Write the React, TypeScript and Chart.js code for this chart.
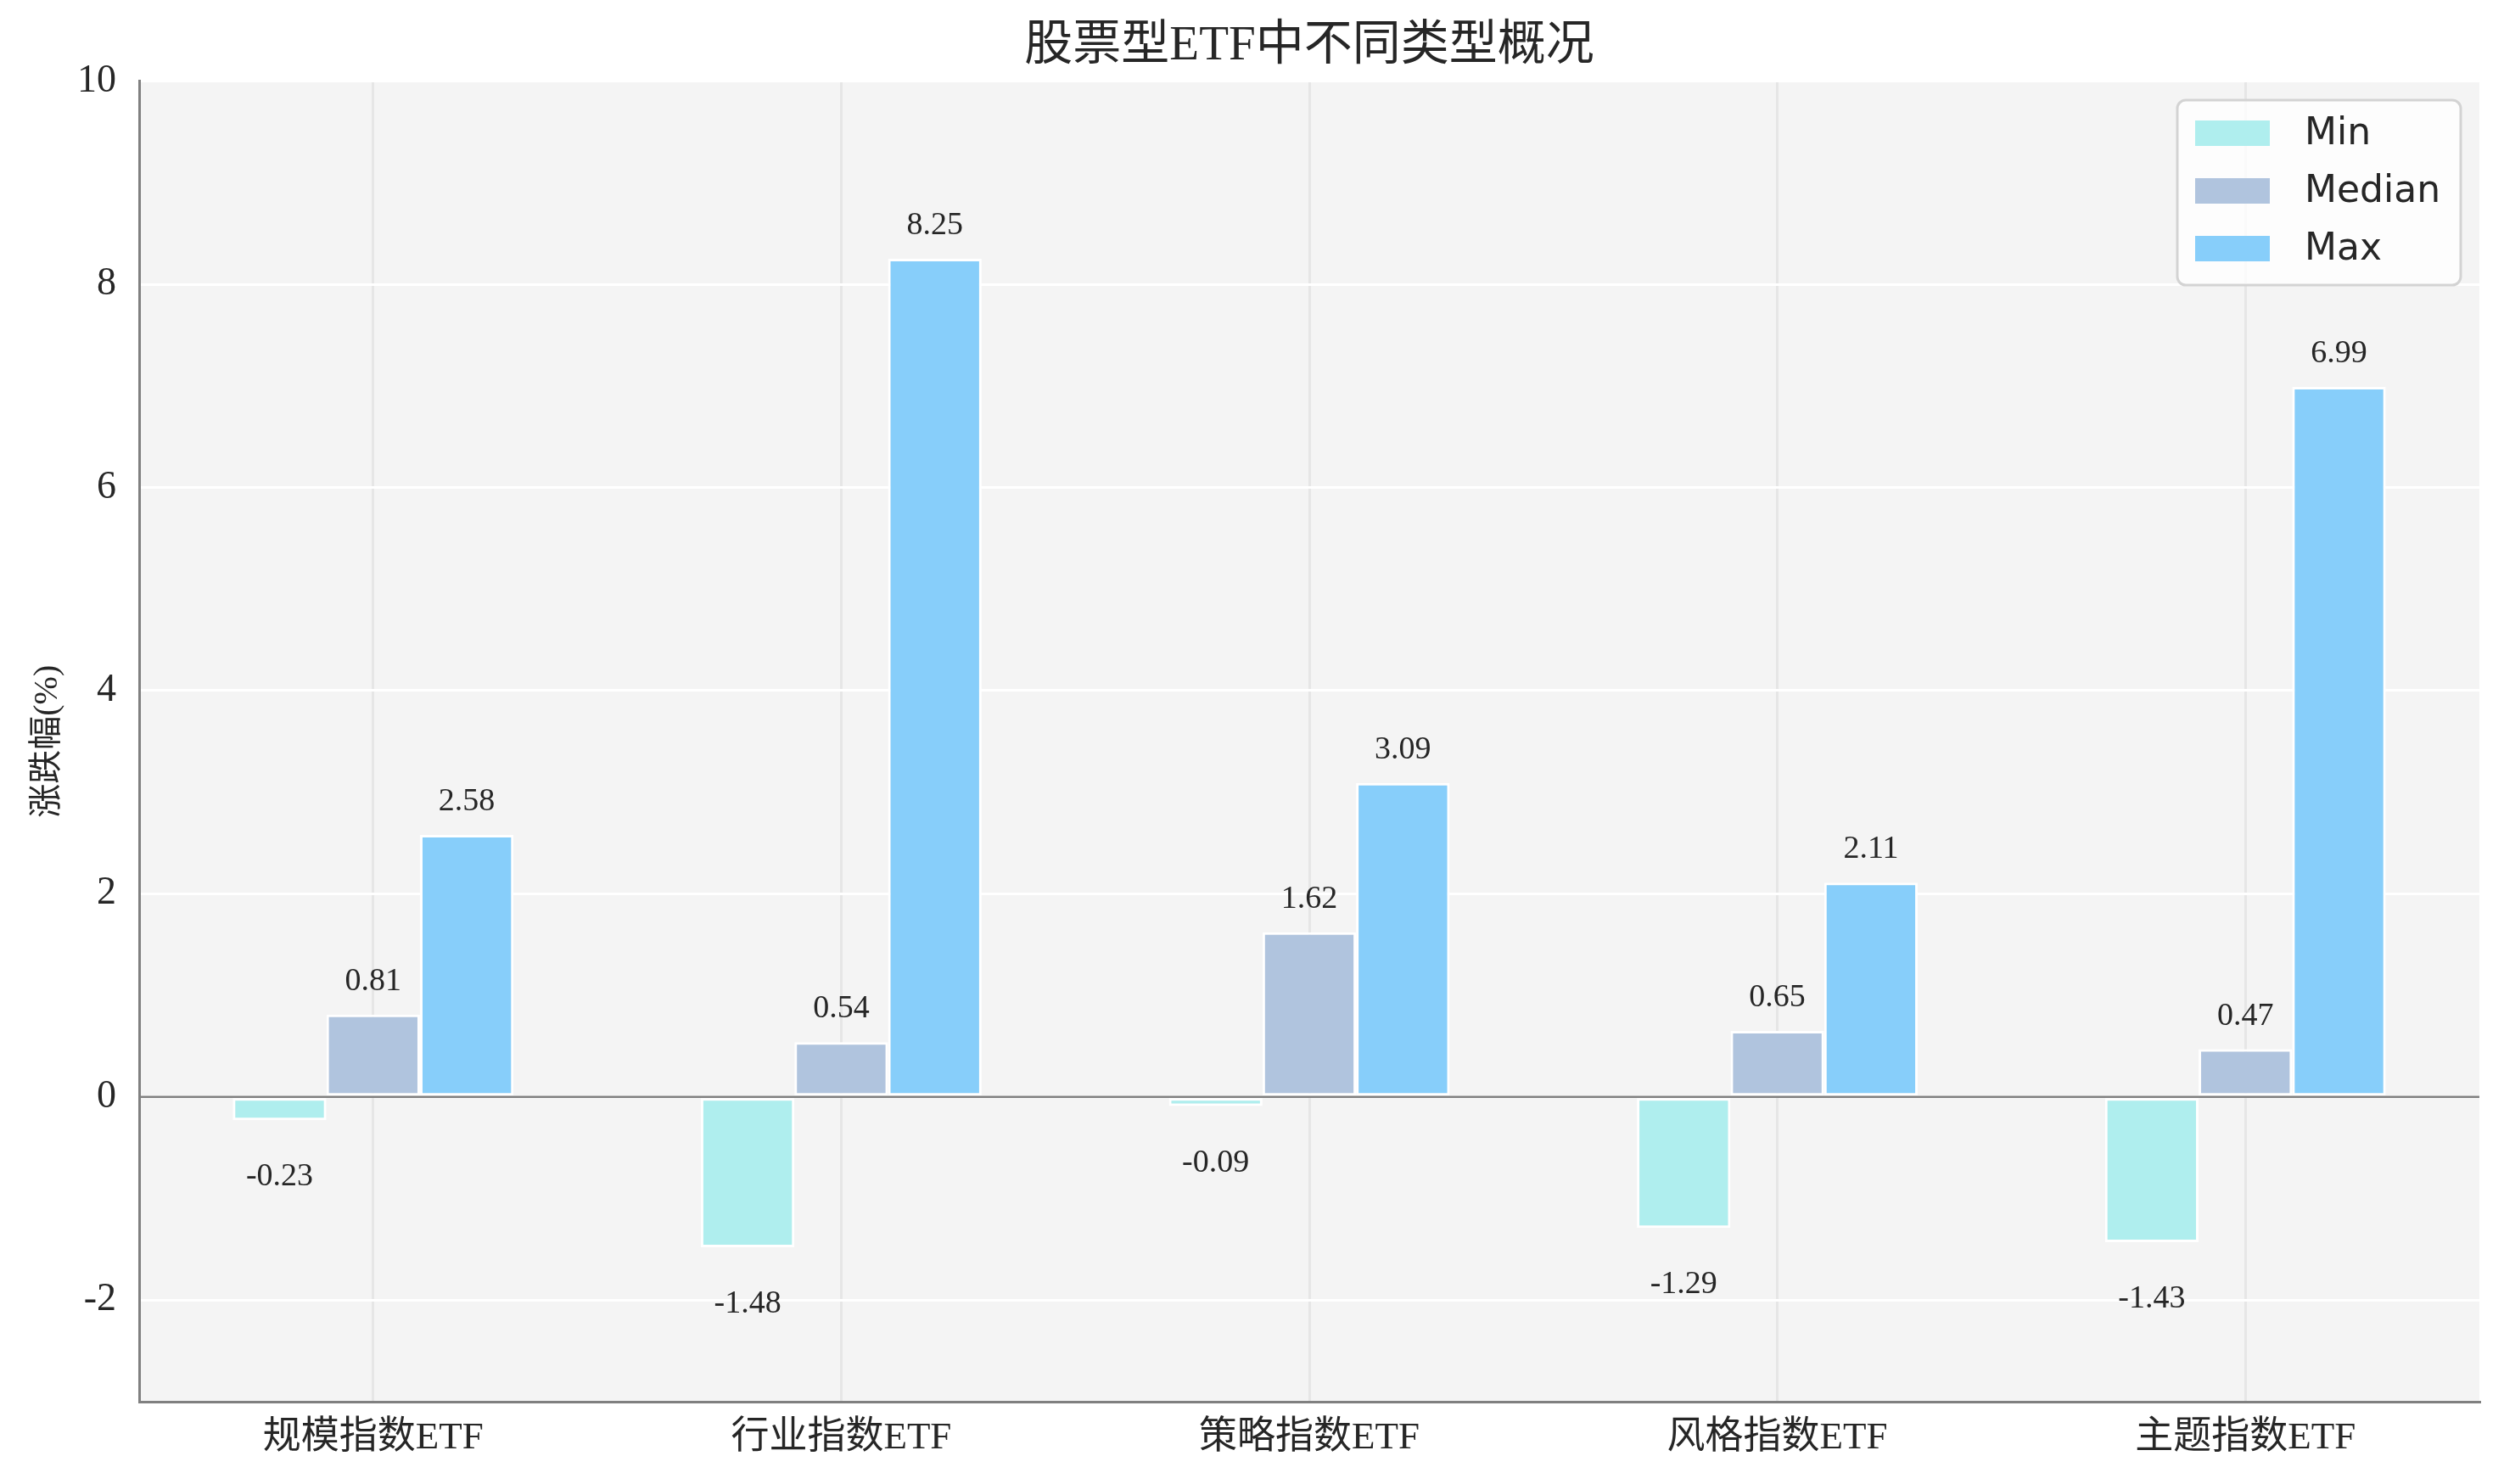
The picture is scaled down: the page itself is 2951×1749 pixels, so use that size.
import { useEffect, useRef } from 'react';
import { Chart, registerables } from 'chart.js';

Chart.register(...registerables);

// chart data
const categories = ['规模指数ETF', '行业指数ETF', '策略指数ETF', '风格指数ETF', '主题指数ETF'];
const minValues = [-0.23, -1.48, -0.09, -1.29, -1.43];
const medianValues = [0.81, 0.54, 1.62, 0.65, 0.47];
const maxValues = [2.58, 8.25, 3.09, 2.11, 6.99];
const seriesNames = ['Min', 'Median', 'Max'];
const seriesColors = ['#AFEEEE', '#B0C4DE', '#87CEFA'];
const yTickValues = [-2, 0, 2, 4, 6, 8, 10];

const SERIF = "'Liberation Serif', 'Noto Sans CJK SC', serif";
const SANS = "'DejaVu Sans', sans-serif";
const TEXT = '#262626';

// grey plot area like the seaborn style
const plotBackground = {
  id: 'plotBackground',
  beforeDraw(chart: any) {
    const { ctx, chartArea: a } = chart;
    ctx.save();
    ctx.fillStyle = '#f4f4f4';
    ctx.fillRect(a.left, a.top, a.right - a.left, a.bottom - a.top);
    ctx.restore();
  },
};

// zero line and the numbers above / below each bar
const valueLabels = {
  id: 'valueLabels',
  afterDatasetsDraw(chart: any) {
    const { ctx, chartArea: a, scales } = chart;
    const y0 = scales.y.getPixelForValue(0);
    ctx.save();
    ctx.strokeStyle = '#808080';
    ctx.lineWidth = 2.5;
    ctx.beginPath();
    ctx.moveTo(a.left, y0);
    ctx.lineTo(a.right, y0);
    ctx.stroke();

    ctx.font = `38px ${SERIF}`;
    ctx.fillStyle = TEXT;
    ctx.textAlign = 'center';
    ctx.textBaseline = 'alphabetic';
    chart.data.datasets.forEach((ds: any, i: number) => {
      chart.getDatasetMeta(i).data.forEach((bar: any, j: number) => {
        const v = ds.data[j];
        const ty = v >= 0 ? bar.y - 29 : bar.y + 77;
        ctx.fillText(v.toFixed(2), bar.x, ty);
      });
    });
    ctx.restore();
  },
};

// legend box inside the plot, upper right
const boxLegend = {
  id: 'boxLegend',
  afterDraw(chart: any) {
    const { ctx } = chart;
    const left = 2566;
    const top = 118;
    const w = 334;
    const h = 218;
    ctx.save();
    ctx.beginPath();
    ctx.roundRect(left, top, w, h, 10);
    ctx.fillStyle = 'rgba(255,255,255,0.8)';
    ctx.fill();
    ctx.strokeStyle = '#d3d3d3';
    ctx.lineWidth = 3;
    ctx.stroke();

    ctx.font = `44px ${SANS}`;
    ctx.textAlign = 'left';
    ctx.textBaseline = 'middle';
    chart.data.datasets.forEach((ds: any, i: number) => {
      const cy = top + 39 + i * 68;
      ctx.fillStyle = ds.backgroundColor;
      ctx.fillRect(left + 21, cy - 15, 88, 30);
      ctx.fillStyle = TEXT;
      ctx.fillText(ds.label, left + 150, cy + 2);
    });
    ctx.restore();
  },
};

export default function App() {
  const canvasRef = useRef<HTMLCanvasElement | null>(null);

  useEffect(() => {
    document.body.style.margin = '0';
    const canvas = canvasRef.current;
    if (!canvas) return;

    const series = [minValues, medianValues, maxValues];

    const chart = new Chart(canvas, {
      type: 'bar',
      data: {
        labels: categories,
        datasets: series.map((values, i) => ({
          label: seriesNames[i],
          data: values,
          backgroundColor: seriesColors[i],
          borderColor: '#ffffff',
          borderWidth: 3,
          borderSkipped: false,
          categoryPercentage: 0.6,
          barPercentage: 1.0,
        })),
      },
      options: {
        animation: false,
        responsive: true,
        maintainAspectRatio: false,
        devicePixelRatio: 1,
        layout: { padding: { left: 0, right: 29, top: 0, bottom: 0 } },
        plugins: {
          legend: { display: false },
          tooltip: { enabled: false },
          title: {
            display: true,
            text: '股票型ETF中不同类型概况',
            color: TEXT,
            fullSize: false,
            font: { family: SERIF, size: 57, weight: 'normal', lineHeight: 1.15 },
            padding: { top: 22, bottom: 8 },
          },
        },
        scales: {
          x: {
            grid: { offset: false, color: '#e6e6e6', lineWidth: 3, drawTicks: false },
            border: { color: '#808080', width: 3 },
            ticks: {
              color: TEXT,
              padding: 16,
              font: { family: SERIF, size: 45 },
            },
            afterFit: (scale: any) => {
              scale.height = 97;
            },
          },
          y: {
            min: -3,
            max: 10,
            grid: { color: '#ffffff', lineWidth: 3, drawTicks: false },
            border: { color: '#808080', width: 3 },
            ticks: {
              stepSize: 2,
              includeBounds: false,
              color: TEXT,
              padding: 27,
              font: { family: SERIF, size: 46 },
              callback: (v: any) => (yTickValues.includes(Number(v)) ? String(v) : ''),
            },
            title: {
              display: true,
              text: '涨跌幅(%)',
              color: TEXT,
              font: { family: SERIF, size: 40 },
              padding: { top: 32, bottom: 0 },
            },
            afterFit: (scale: any) => {
              scale.width = 164;
            },
          },
        },
      },
      plugins: [plotBackground, valueLabels, boxLegend],
    });

    return () => {
      chart.destroy();
    };
  }, []);

  return (
    <div style={{ width: 2951, height: 1749, background: '#ffffff' }}>
      <canvas ref={canvasRef} />
    </div>
  );
}
